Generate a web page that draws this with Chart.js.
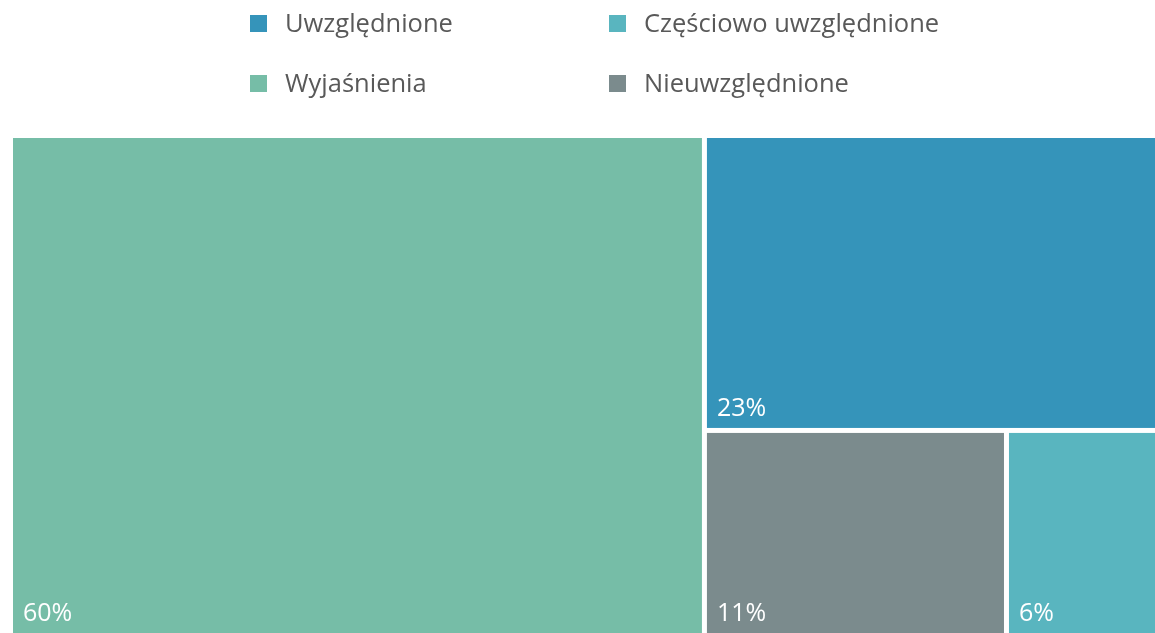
<!DOCTYPE html>
<html>
<head>
<meta charset="utf-8">
<script src="https://cdn.jsdelivr.net/npm/chart.js@4/dist/chart.umd.min.js"></script>
<style>
  html, body { margin: 0; padding: 0; background: #ffffff; overflow: hidden; }
  #wrap { position: absolute; left: 0; top: 0; width: 1160px; height: 638px; }
</style>
</head>
<body>
<div id="wrap"><canvas id="c"></canvas></div>
<script>
// ---- data ----
const categories = ['Uwzględnione', 'Częściowo uwzględnione', 'Wyjaśnienia', 'Nieuwzględnione'];
const shares = [23.3, 5.4, 60.5, 10.8];            // area shares (percent)
const shareLabels = ['23%', '6%', '60%', '11%'];    // labels printed in the cells
const colors = ['#3594BA', '#59B5BF', '#76BDA7', '#7B8B8D'];

// ---- squarified treemap layout (in chart-area proportions) ----
function worst(row, side) {
  const s = row.reduce((a, b) => a + b.area, 0);
  const mx = Math.max(...row.map(r => r.area));
  const mn = Math.min(...row.map(r => r.area));
  return Math.max(side * side * mx / (s * s), (s * s) / (side * side * mn));
}
function squarify(items, W, H) {
  const total = items.reduce((a, b) => a + b.value, 0);
  let remaining = items.slice().sort((a, b) => b.value - a.value)
    .map(it => Object.assign({}, it, { area: it.value / total * W * H }));
  let rect = { x: 0, y: 0, w: W, h: H };
  const out = [];
  while (remaining.length) {
    const side = Math.min(rect.w, rect.h);
    const row = [remaining[0]];
    let i = 1;
    while (i < remaining.length && worst(row.concat([remaining[i]]), side) <= worst(row, side)) {
      row.push(remaining[i]); i++;
    }
    remaining = remaining.slice(i);
    const s = row.reduce((a, b) => a + b.area, 0);
    if (rect.w >= rect.h) {
      const cw = s / rect.h; let yy = rect.y;
      row.forEach(r => { const hh = r.area / cw; out.push(Object.assign({}, r, { x: rect.x, y: yy, w: cw, h: hh })); yy += hh; });
      rect = { x: rect.x + cw, y: rect.y, w: rect.w - cw, h: rect.h };
    } else {
      const rh = s / rect.w; let xx = rect.x;
      row.forEach(r => { const ww = r.area / rh; out.push(Object.assign({}, r, { x: xx, y: rect.y, w: ww, h: rh })); xx += ww; });
      rect = { x: rect.x, y: rect.y + rh, w: rect.w, h: rect.h - rh };
    }
  }
  return out.map(c => Object.assign(c, { x: c.x / W * 100, y: c.y / H * 100, w: c.w / W * 100, h: c.h / H * 100 }));
}

const treemapPlugin = {
  id: 'treemapCells',
  beforeDatasetsDraw(chart) {
    const ca = chart.chartArea;
    const xs = chart.scales.x, ys = chart.scales.y;
    const items = categories.map((c, i) => ({ label: c, value: shares[i], text: shareLabels[i], color: colors[i] }));
    const cells = squarify(items, ca.right - ca.left, ca.bottom - ca.top);
    const ctx = chart.ctx;
    const gap = 2.5;
    ctx.save();
    cells.forEach(c => {
      const x0 = xs.getPixelForValue(c.x) + gap;
      const x1 = xs.getPixelForValue(c.x + c.w) - gap;
      const y0 = ys.getPixelForValue(c.y) + gap;
      const y1 = ys.getPixelForValue(c.y + c.h) - gap;
      ctx.fillStyle = c.color;
      ctx.fillRect(x0, y0, x1 - x0, y1 - y0);
      ctx.fillStyle = '#ffffff';
      ctx.font = '25px "Open Sans"';
      ctx.textBaseline = 'alphabetic';
      ctx.textAlign = 'left';
      ctx.fillText(c.text, x0 + 10, y1 - 12);
    });
    ctx.restore();
  }
};

const gridLegendPlugin = {
  id: 'gridLegend',
  afterDraw(chart, args, opts) {
    const ctx = chart.ctx;
    ctx.save();
    chart.data.datasets.forEach((ds, i) => {
      const col = i % 2, row = Math.floor(i / 2);
      const bx = opts.colX[col], by = opts.rowY[row];
      ctx.fillStyle = ds.backgroundColor;
      ctx.fillRect(bx, by - opts.box / 2, opts.box, opts.box);
      ctx.fillStyle = opts.color;
      ctx.font = opts.font;
      ctx.textBaseline = 'middle';
      ctx.textAlign = 'left';
      ctx.fillText(ds.label, bx + opts.textOffset, by + 1);
    });
    ctx.restore();
  }
};

new Chart(document.getElementById('c'), {
  type: 'scatter',
  data: {
    datasets: categories.map((c, i) => ({ label: c, data: [], backgroundColor: colors[i] }))
  },
  options: {
    responsive: true,
    maintainAspectRatio: false,
    animation: false,
    layout: { padding: { left: 10.5, top: 135.5, right: 2.5, bottom: 2.5 } },
    scales: {
      x: { type: 'linear', min: 0, max: 100, display: false },
      y: { type: 'linear', min: 0, max: 100, reverse: true, display: false }
    },
    plugins: {
      legend: { display: false },
      tooltip: { enabled: false },
      gridLegend: { colX: [250, 609], rowY: [23.5, 83.5], box: 17, textOffset: 35, color: '#595959', font: '25.5px "Open Sans"' }
    }
  },
  plugins: [treemapPlugin, gridLegendPlugin]
});
</script>
</body>
</html>
